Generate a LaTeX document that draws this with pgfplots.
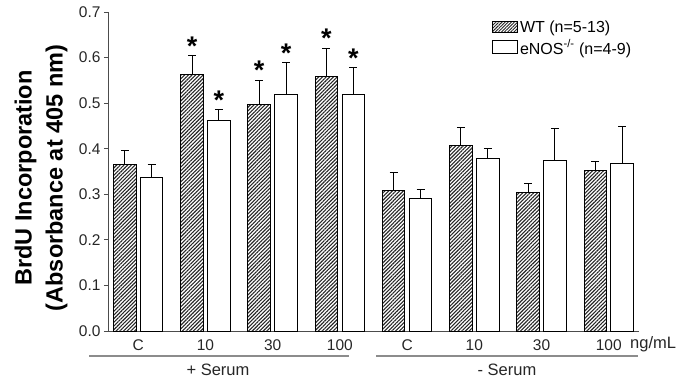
\documentclass[border=0pt]{standalone}
\usepackage{fontspec}
\setmainfont{Liberation Sans}
\usepackage{pgfplots}
\pgfplotsset{compat=1.18}
\usetikzlibrary{patterns.meta}

\pgfplotstableread{
x     y      e
-0.2  0.366  0.031
0.8   0.563  0.041
1.8   0.498  0.051
2.8   0.559  0.060
3.8   0.308  0.039
4.8   0.407  0.039
5.8   0.304  0.020
6.8   0.352  0.020
}\wt
\pgfplotstableread{
x     y      e
0.2   0.336  0.030
1.2   0.463  0.022
2.2   0.518  0.071
3.2   0.518  0.061
4.2   0.290  0.020
5.2   0.379  0.021
6.2   0.375  0.070
7.2   0.368  0.080
}\enos
\pgfplotstableread{
x     y
0.8   0.635
1.2   0.518
1.8   0.584
2.2   0.621
2.8   0.654
3.2   0.610
}\stars

\begin{document}
\begin{tikzpicture}[x=1pt,y=1pt]
\useasboundingbox (0,0) rectangle (694,381);
\begin{axis}[
  at={(108pt,50pt)}, anchor=south west,
  scale only axis, width=531pt, height=319pt,
  xmin=-0.45, xmax=7.45, ymin=0, ymax=0.7,
  axis lines*=left,
  axis line style={draw=black!70, line width=0.9pt},
  ytick={0,0.1,0.2,0.3,0.4,0.5,0.6,0.7},
  yticklabel style={/pgf/number format/.cd, fixed, fixed zerofill, precision=1, assume math mode=true},
  tick align=outside,
  ytick style={draw=black!70, line width=0.9pt},
  major tick length=4pt,
  xtick={0,1,2,3,4,5,6,7},
  xticklabels={C,10,30,100,C,10,30,100},
  xtick style={draw=none},
  xticklabel style={yshift=-1pt},
  ticklabel style={font=\fontsize{15.5}{17}\selectfont, text=black!85},
  clip=false,
  legend style={at={(0.723,0.98)}, anchor=north west, draw=none, fill=none,
    font=\fontsize{16}{18}\selectfont, row sep=2pt, inner sep=0pt,
    cells={anchor=west}},
  legend cell align=left,
]
\addplot[ybar, bar width=0.335, bar shift=0pt, draw=black, line width=1pt,
  pattern={Lines[angle=45,distance=2.6pt,line width=1.1pt]}, pattern color=black!85,
  legend image code/.code={\draw[draw=black, line width=0.8pt, pattern={Lines[angle=45,distance=2.2pt,line width=0.9pt]}, pattern color=black!85] (-3pt,-5pt) rectangle (22pt,6pt);},
  error bars/.cd, y dir=plus, y explicit,
  error bar style={line width=1pt, black},
  error mark options={rotate=90, line width=1pt, mark size=4pt, black},
  ] table[x=x, y=y, y error=e] {\wt};
\addlegendentry{WT (n=5-13)}
\addplot[ybar, bar width=0.335, bar shift=0pt, draw=black, line width=1pt, fill=white,
  legend image code/.code={\draw[draw=black, line width=0.8pt, fill=white] (-3pt,-6pt) rectangle (22pt,7pt);},
  error bars/.cd, y dir=plus, y explicit,
  error bar style={line width=1pt, black},
  error mark options={rotate=90, line width=1pt, mark size=4pt, black},
  ] table[x=x, y=y, y error=e] {\enos};
\addlegendentry{eNOS\textsuperscript{-/-} (n=4-9)}
\addplot[only marks, mark=text, text mark as node=true,
  text mark={\fontsize{27}{27}\bfseries\selectfont *},
  text mark style={yshift=-5pt, inner sep=0pt}, forget plot]
  table[x=x, y=y] {\stars};
\end{axis}
\draw[black!45, line width=1.3pt] (89,25) -- (349,25);
\draw[black!45, line width=1.3pt] (376,25) -- (638,25);
\node[font=\fontsize{16.5}{18}\selectfont, text=black!85] at (218,11) {+ Serum};
\node[font=\fontsize{16.5}{18}\selectfont, text=black!85] at (507,11) {- Serum};
\node[font=\fontsize{16.5}{18}\selectfont, text=black!85, anchor=west, inner sep=0pt] at (630,37) {ng/mL};
\node[rotate=90, align=center, inner sep=0pt, font=\bfseries\fontsize{23.5}{31}\selectfont] at (41,203)
  {BrdU Incorporation\\(Absorbance at 405 nm)};
\end{tikzpicture}
\end{document}
